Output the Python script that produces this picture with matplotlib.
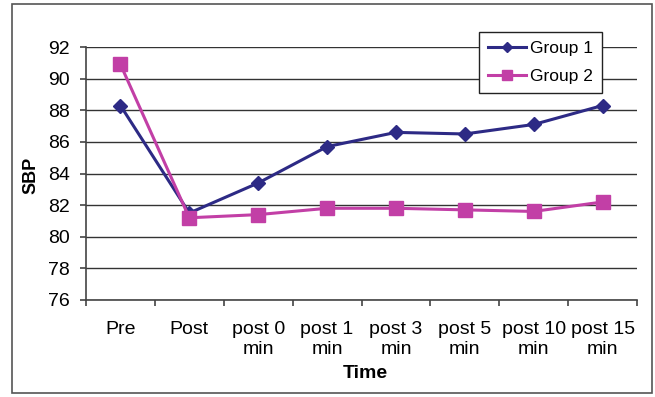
import matplotlib
matplotlib.use("Agg")
import matplotlib.pyplot as plt
from matplotlib.patches import Rectangle
import numpy as np

plt.rcParams['font.family'] = ['Liberation Sans', 'DejaVu Sans']

categories = ["Pre", "Post", "post 0\nmin", "post 1\nmin", "post 3\nmin",
              "post 5\nmin", "post 10\nmin", "post 15\nmin"]
group1 = [88.3, 81.5, 83.4, 85.7, 86.6, 86.5, 87.1, 88.3]
group2 = [90.9, 81.2, 81.4, 81.8, 81.8, 81.7, 81.6, 82.2]
yticks = [76, 78, 80, 82, 84, 86, 88, 90, 92]

c1 = '#2d2a85'
c2 = '#c23fa6'
FS = 14

fig = plt.figure(figsize=(6.55, 3.97), dpi=100)
fig.patches.append(Rectangle((12/655, 4/397), 640/655, 389/397, transform=fig.transFigure,
                             fill=False, edgecolor='#555555', linewidth=1.2))
ax = fig.add_axes([86/655, 1-300/397, (637-86)/655, (300-47)/397])

x = np.arange(len(categories))
ax.plot(x, group1, color=c1, lw=2.2, marker='D', ms=7.5, label='Group 1', zorder=3)
ax.plot(x, group2, color=c2, lw=2.2, marker='s', ms=9.5, label='Group 2', zorder=3)

ax.set_xlim(-0.5, len(categories) - 0.5)
ax.set_ylim(76, 92)
ax.set_yticks(yticks)
ax.yaxis.grid(True, color='#333333', lw=1)
ax.set_axisbelow(True)
ax.set_xticks(x)
ax.set_xticklabels(categories, fontsize=FS, linespacing=1.22)
ax.set_xticks(np.arange(len(categories) + 1) - 0.5, minor=True)
ax.tick_params(axis='x', which='major', length=0, pad=15)
ax.tick_params(axis='x', which='minor', length=4.5, color='#444444', width=1.2)
ax.tick_params(axis='y', length=4.5, color='#444444', width=1.2, labelsize=FS, pad=7)
for s in ['top', 'right']:
    ax.spines[s].set_visible(False)
for s in ['left', 'bottom']:
    ax.spines[s].set_color('#444444')
    ax.spines[s].set_linewidth(1.2)

ax.set_ylabel('SBP', fontsize=13, fontweight='bold', va='center')
ax.yaxis.set_label_coords((31 - 86) / 551, (300 - 175) / 253)
ax.set_xlabel('Time', fontsize=FS, fontweight='bold')
ax.xaxis.set_label_coords((365 - 86) / 551, -(373 - 300) / 253)
ax.xaxis.label.set_va('center')

leg = ax.legend(loc='upper right', bbox_to_anchor=(602/655, 1-32/397),
                bbox_transform=fig.transFigure, borderaxespad=0, fontsize=12.5,
                fancybox=False, framealpha=1, edgecolor='#222222',
                handlelength=2.2, markerscale=0.7, borderpad=0.5, labelspacing=0.75,
                handletextpad=0.25)
leg.get_frame().set_linewidth(1.0)

fig.savefig('out.png', dpi=100)
